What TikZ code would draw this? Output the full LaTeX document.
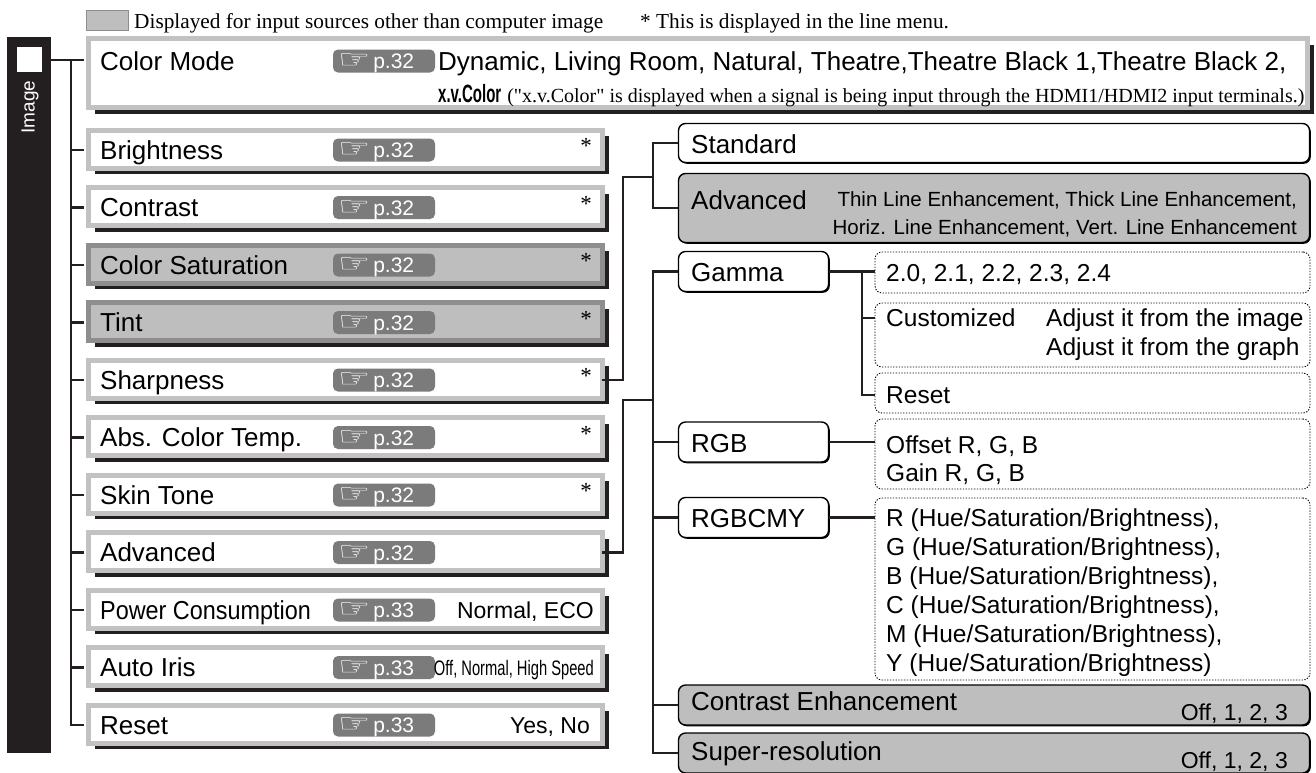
\documentclass[tikz,border=0pt]{standalone}
\usepackage{fontspec}
\usepackage{graphicx}
\setmainfont{Liberation Sans}
\newfontfamily\notefont{Liberation Serif}
\newfontfamily\narrowfont{Liberation Sans}[FakeStretch=0.7]
\newfontfamily\semifont{Liberation Sans}[FakeStretch=0.9]
\newfontfamily\logofont{Liberation Sans}[FakeStretch=0.6]
\newfontfamily\handfont{DejaVu Sans}
\usetikzlibrary{shadows}
\definecolor{barblack}{RGB}{35,31,32}
\definecolor{edgegray}{RGB}{194,194,194}
\definecolor{shadegray}{RGB}{190,190,190}
\definecolor{darkedge}{RGB}{142,142,142}
\definecolor{badgegray}{RGB}{123,123,123}
\newcommand{\handicon}{{\handfont\fontsize{24}{26}\selectfont\scalebox{1.5}[1.1]{☞}}}
\newcommand{\seepage}[1]{\makebox[92pt][l]{\handicon\hspace{3pt}p.#1}}
\tikzset{
  tree/.style={line width=2.6pt, barblack},
  itembox/.style={draw=edgegray, fill=white, line width=5pt, inner sep=0pt,
              minimum width=514pt, minimum height=38pt,
              general shadow={fill=barblack, shadow xshift=6pt, shadow yshift=-6pt}},
  graybox/.style={itembox, draw=darkedge, fill=shadegray},
  itemlbl/.style={anchor=west, inner sep=0pt, font=\fontsize{26}{31}\selectfont,
              text height=18.6pt, text depth=0pt},
  badge/.style={fill=badgegray, rounded corners=5pt, minimum width=102pt, minimum height=23pt,
              inner sep=0pt, text=white, font=\fontsize{21}{25}\selectfont,
              text height=15pt, text depth=0pt},
  star/.style={inner sep=0pt, font=\notefont\fontsize{23}{27}\selectfont},
  extra/.style={anchor=east, inner sep=0pt, font=\fontsize{23}{28}\selectfont,
              text height=16.5pt, text depth=0pt},
  legbox/.style={fill=shadegray, draw=darkedge, line width=1pt, minimum width=42pt,
              minimum height=20pt, inner sep=0pt,
              general shadow={fill=barblack, shadow xshift=1.2pt, shadow yshift=-1.2pt}},
  legtxt/.style={anchor=west, inner sep=0pt, font=\notefont\fontsize{21.3}{25}\selectfont,
              text height=14pt, text depth=0pt},
  rbox/.style={draw=black, fill=white, line width=1.4pt, rounded corners=7pt, inner sep=0pt,
              general shadow={fill=black, shadow xshift=1.3pt, shadow yshift=-1.3pt}},
  rgray/.style={rbox, fill=shadegray},
  optbox/.style={draw=black, line width=0.9pt, dash pattern=on 1.3pt off 1.5pt,
              rounded corners=7pt, inner sep=0pt},
  rlbl/.style={anchor=west, inner sep=0pt, font=\fontsize{26}{31}\selectfont,
              text height=18.6pt, text depth=0pt},
  optlbl/.style={anchor=west, inner sep=0pt, font=\fontsize{24.5}{29}\selectfont,
              text height=17.5pt, text depth=0pt},
  note/.style={anchor=east, inner sep=0pt, font=\fontsize{20.5}{24}\selectfont,
              text height=14.7pt, text depth=0pt},
}
\newcommand{\menuitem}[5]{%
  \node[#3] (#1) at (345.5,#2-1) {};
  \node[itemlbl] (#1-l) at (100,#2) {#4};
  \node[badge] (#1-p) at (384,#2) {\seepage{#5}};
}

\begin{document}
\begin{tikzpicture}[x=1pt, y=-1pt]
  \fill[white] (0,0) rectangle (1316,772);
  \useasboundingbox (0,0) rectangle (1316,772);

  % legend line
  \node[legbox] (leg) at (107,20) {};
  \node[legtxt] (leg-a) at (134,21) {Displayed for input sources other than computer image};
  \node[legtxt] (leg-b) at (640,21) {* This is displayed in the line menu.};

  % menu bar on the left
  \node[fill=barblack, minimum width=44pt, minimum height=716pt, inner sep=0pt] (imgbar) at (29,395) {};
  \node[fill=white, minimum size=25pt, inner sep=0pt] (imgsq) at (29.5,59.5) {};
  \node[rotate=90, text=white, font=\fontsize{19}{23}\selectfont, inner sep=0pt] (imglbl) at (30,107) {Image};

  % Color Mode
  \node[itembox, minimum width=1219pt, minimum height=69pt] (cmode) at (698,73) {};
  \node[itemlbl] (cmode-l) at (100,61) {Color Mode};
  \node[badge] (cmode-p) at (384,61) {\seepage{32}};
  \node[itemlbl] (cmode-a) at (438,61) {Dynamic, Living Room, Natural, Theatre,Theatre Black 1,Theatre Black 2,};
  \node[itemlbl] (cmode-b) at (438,93) {{\logofont\bfseries\fontsize{25}{29}\selectfont x.v.Color}\hspace{6pt}{\notefont\fontsize{20}{24}\selectfont ("x.v.Color" is displayed when a signal is being input through the HDMI1/HDMI2 input terminals.)}};

  % left column
  \menuitem{bright}{150}{itembox}{Brightness}{32}
  \menuitem{contr}{207.5}{itembox}{Contrast}{32}
  \menuitem{colsat}{265}{graybox}{Color Saturation}{32}
  \menuitem{tint}{322.5}{graybox}{Tint}{32}
  \menuitem{sharp}{380}{itembox}{Sharpness}{32}
  \menuitem{abstemp}{437.5}{itembox}{Abs. Color Temp.}{32}
  \menuitem{skin}{495}{itembox}{Skin Tone}{32}
  \menuitem{adv}{552.5}{itembox}{Advanced}{32}
  \menuitem{power}{610}{itembox}{{\semifont Power Consumption}}{33}
  \menuitem{iris}{667.5}{itembox}{Auto Iris}{33}
  \menuitem{reset}{725}{itembox}{Reset}{33}
  \node[star] (bright-s) at (586,146) {*};
  \node[star] (contr-s) at (586,203.5) {*};
  \node[star] (colsat-s) at (586,261) {*};
  \node[star] (tint-s) at (586,318.5) {*};
  \node[star] (sharp-s) at (586,376) {*};
  \node[star] (abstemp-s) at (586,433.5) {*};
  \node[star] (skin-s) at (586,491) {*};
  \node[extra] (power-x) at (594,610) {Normal, ECO};
  \node[extra, font=\narrowfont\fontsize{21}{25}\selectfont] (iris-x) at (594,667.5) {Off, Normal, High Speed};
  \node[extra] (reset-x) at (590,725) {Yes, No};

  % tree of the left column
  \coordinate (spine) at (71,60);
  \draw[tree, shorten >=2.5pt] (imgbar.east |- spine) -- (cmode.west |- spine);
  \draw[tree, shorten >=2.5pt] (spine) -- (spine |- reset-l.west) -- (reset.west |- reset-l.west);
  \draw[tree, shorten >=2.5pt] (spine |- bright-l.west) -- (bright.west |- bright-l.west);
  \draw[tree, shorten >=2.5pt] (spine |- contr-l.west) -- (contr.west |- contr-l.west);
  \draw[tree, shorten >=2.5pt] (spine |- colsat-l.west) -- (colsat.west |- colsat-l.west);
  \draw[tree, shorten >=2.5pt] (spine |- tint-l.west) -- (tint.west |- tint-l.west);
  \draw[tree, shorten >=2.5pt] (spine |- sharp-l.west) -- (sharp.west |- sharp-l.west);
  \draw[tree, shorten >=2.5pt] (spine |- abstemp-l.west) -- (abstemp.west |- abstemp-l.west);
  \draw[tree, shorten >=2.5pt] (spine |- skin-l.west) -- (skin.west |- skin-l.west);
  \draw[tree, shorten >=2.5pt] (spine |- adv-l.west) -- (adv.west |- adv-l.west);
  \draw[tree, shorten >=2.5pt] (spine |- power-l.west) -- (power.west |- power-l.west);
  \draw[tree, shorten >=2.5pt] (spine |- iris-l.west) -- (iris.west |- iris-l.west);

  % right column
  \node[rbox, minimum width=631pt, minimum height=39pt] (std) at (994,143) {};
  \node[rlbl] (std-l) at (691,144) {Standard};
  \node[rgray, minimum width=631pt, minimum height=69pt] (advr) at (994,208) {};
  \node[rlbl] (advr-l) at (691,200) {Advanced};
  \node[note] (advr-a) at (1297,199) {Thin Line Enhancement, Thick Line Enhancement,};
  \node[note] (advr-b) at (1297,227) {Horiz. Line Enhancement, Vert. Line Enhancement};

  \node[rbox, minimum width=150pt, minimum height=40pt] (gamma) at (753.5,271.5) {};
  \node[rlbl] (gamma-l) at (691,272) {Gamma};
  \node[optbox, minimum width=435pt, minimum height=41pt] (gopt) at (1092.5,272.5) {};
  \node[optlbl] (gopt-l) at (886,273) {2.0, 2.1, 2.2, 2.3, 2.4};
  \node[optbox, minimum width=435pt, minimum height=64pt] (cust) at (1092.5,335) {};
  \node[optlbl] (cust-l) at (886,318) {Customized};
  \node[optlbl] (cust-a) at (1046,318) {Adjust it from the image};
  \node[optlbl] (cust-b) at (1046,347) {Adjust it from the graph};
  \node[optbox, minimum width=435pt, minimum height=40pt] (grst) at (1092.5,393) {};
  \node[optlbl] (grst-l) at (886,395) {Reset};

  \node[rbox, minimum width=150pt, minimum height=40pt] (rgb) at (753.5,442) {};
  \node[rlbl] (rgb-l) at (691,443) {RGB};
  \node[optbox, minimum width=435pt, minimum height=70pt] (rgbo) at (1092.5,454) {};
  \node[optlbl] (rgbo-a) at (886,445) {Offset R, G, B};
  \node[optlbl] (rgbo-b) at (886,473) {Gain R, G, B};

  \node[rbox, minimum width=150pt, minimum height=40pt] (cmy) at (753.5,517.5) {};
  \node[rlbl] (cmy-l) at (691,518) {RGBCMY};
  \node[optbox, minimum width=435pt, minimum height=182pt] (cmyo) at (1092.5,589) {};
  \node[optlbl] (cmyo-r) at (886,518) {R (Hue/Saturation/Brightness),};
  \node[optlbl] (cmyo-g) at (886,547) {G (Hue/Saturation/Brightness),};
  \node[optlbl] (cmyo-b) at (886,576) {B (Hue/Saturation/Brightness),};
  \node[optlbl] (cmyo-c) at (886,605) {C (Hue/Saturation/Brightness),};
  \node[optlbl] (cmyo-m) at (886,634) {M (Hue/Saturation/Brightness),};
  \node[optlbl] (cmyo-y) at (886,663) {Y (Hue/Saturation/Brightness)};

  \node[rgray, minimum width=631pt, minimum height=40pt] (cenh) at (994,705) {};
  \node[rlbl] (cenh-l) at (691,701) {Contrast Enhancement};
  \node[extra] (cenh-x) at (1288,712) {Off, 1, 2, 3};
  \node[rgray, minimum width=631pt, minimum height=40pt] (sres) at (994,753) {};
  \node[rlbl] (sres-l) at (691,751) {Super-resolution};
  \node[extra] (sres-x) at (1288,760) {Off, 1, 2, 3};

  % connectors of the right column
  \coordinate (bx) at (653,0);
  \coordinate (gx) at (862,0);
  \coordinate (j1) at (623,177);
  \coordinate (j2) at (623,400);
  \draw[tree, shorten <=-3pt] (sharp.east |- sharp-l.west) -| (j1) -- (j1 -| bx);
  \draw[tree, shorten <=-3pt] (adv.east |- adv-l.west) -| (j2) -- (j2 -| bx);
  \draw[tree] (std.west) -- (std.west -| bx) -- (advr.west -| bx) -- (advr.west);
  \draw[tree] (gamma.west) -- (gamma.west -| bx) -- (sres.west -| bx) -- (sres.west);
  \draw[tree] (rgb.west -| bx) -- (rgb.west);
  \draw[tree] (cmy.west -| bx) -- (cmy.west);
  \draw[tree] (cenh.west -| bx) -- (cenh.west);
  \draw[tree] (gamma.east) -- (gamma.east -| gopt.west);
  \draw[tree] (gamma.east -| gx) -- (grst-l.west -| gx) -- (grst-l.west -| grst.west);
  \draw[tree] (cust-l.west -| gx) -- (cust-l.west -| cust.west);
  \draw[tree] (rgb.east) -- (rgb.east -| rgbo.west);
  \draw[tree] (cmy.east) -- (cmy.east -| cmyo.west);
\end{tikzpicture}
\end{document}
